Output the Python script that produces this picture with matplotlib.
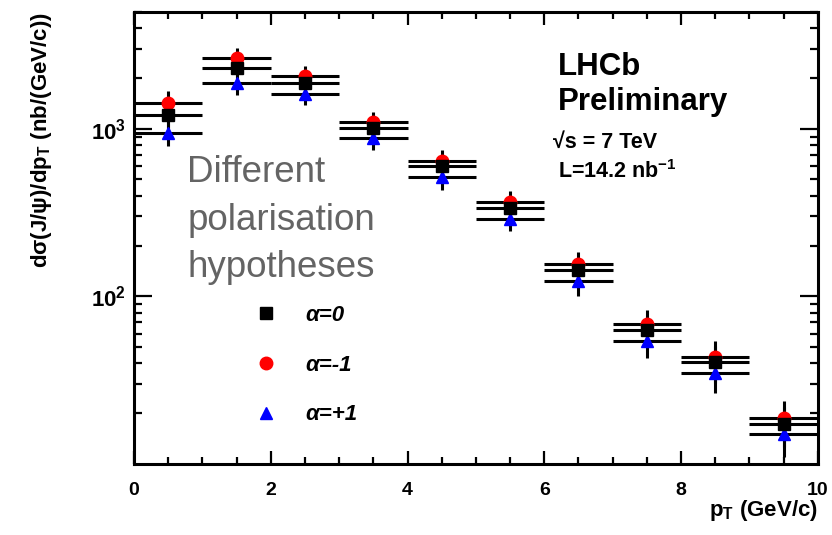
import numpy as np
import matplotlib
matplotlib.use("Agg")
from matplotlib import pyplot as plt
from matplotlib.lines import Line2D
from matplotlib.ticker import MultipleLocator, LogLocator, NullFormatter, FixedLocator, FixedFormatter

plt.rcParams['font.family'] = ['Liberation Sans', 'DejaVu Sans']
plt.rcParams['mathtext.fontset'] = 'custom'
plt.rcParams['mathtext.rm'] = 'Liberation Sans:bold'
plt.rcParams['mathtext.it'] = 'Liberation Sans:italic:bold'
plt.rcParams['mathtext.bf'] = 'Liberation Sans:bold'

# pT bins (GeV/c)
pt_centers = [0.5, 1.5, 2.5, 3.5, 4.5, 5.5, 6.5, 7.5, 8.5, 9.5]
pt_halfwidth = [0.5, 0.5, 0.5, 0.5, 0.5, 0.5, 0.5, 0.5, 0.5, 0.5]

# dsigma/dpT (nb/(GeV/c)) for each polarisation hypothesis
xsec_alpha0 = [1210, 2310, 1880, 1015, 598, 337, 143, 63.0, 40.3, 17.3]
xsec_alpha_m1 = [1430, 2650, 2070, 1100, 645, 366, 155, 68.1, 43.2, 18.7]
xsec_alpha_p1 = [946, 1880, 1615, 884, 513, 291, 123, 54.4, 35.1, 15.1]

# relative uncertainty per bin
rel_err = [0.17, 0.15, 0.14, 0.15, 0.16, 0.16, 0.18, 0.21, 0.25, 0.27]

series = [
    (xsec_alpha_m1, 'o', 'red', r'α=-1'),
    (xsec_alpha_p1, '^', 'blue', r'α=+1'),
    (xsec_alpha0, 's', 'black', r'α=0'),
]

fig = plt.figure(figsize=(8.32, 5.35), dpi=100)
ax = fig.add_axes([0.161, 0.133, 0.822, 0.845])

for vals, marker, col, lab in series:
    v = np.array(vals)
    ax.errorbar(pt_centers, v, xerr=pt_halfwidth, yerr=v * np.array(rel_err),
                fmt='none', ecolor='black', elinewidth=2.2, capsize=0, zorder=2)
for vals, marker, col, lab in series:
    ax.plot(pt_centers, vals, linestyle='none', marker=marker, color=col,
            markersize=9, zorder=3)

ax.set_yscale('log')
ax.set_xlim(0, 10)
ax.set_ylim(10, 5000)

ax.xaxis.set_major_locator(MultipleLocator(2))
ax.xaxis.set_minor_locator(MultipleLocator(0.5))
ax.yaxis.set_major_locator(FixedLocator([100, 1000]))
ax.yaxis.set_major_formatter(FixedFormatter([r'$10^{2}$', r'$10^{3}$']))
ax.yaxis.set_minor_locator(LogLocator(base=10, subs=np.arange(2, 10)))
ax.yaxis.set_minor_formatter(NullFormatter())

ax.tick_params(which='both', direction='in', top=True, right=True, width=1.6)
ax.tick_params(axis='x', which='major', length=9.5, pad=13, labelsize=14)
ax.tick_params(axis='x', which='minor', length=5)
ax.tick_params(axis='y', which='major', length=13, pad=6, labelsize=16)
ax.tick_params(axis='y', which='minor', length=6)
for lbl in ax.get_xticklabels():
    lbl.set_fontweight('bold')
for s in ax.spines.values():
    s.set_linewidth(2.2)

ax.set_xlabel(r'p$_{\mathrm{T}}$ (GeV/c)', loc='right', fontsize=16, fontweight='bold', labelpad=-1)
ax.set_ylabel(r'dσ(J/ψ)/dp$_{\mathrm{T}}$ (nb/(GeV/c))', loc='top', fontsize=16, fontweight='bold', labelpad=26)

ax.text(0.620, 0.861, 'LHCb', transform=ax.transAxes, fontsize=22.5, fontweight='bold', va='baseline')
ax.text(0.620, 0.783, 'Preliminary', transform=ax.transAxes, fontsize=22.5, fontweight='bold', va='baseline')
ax.text(0.612, 0.699, '√s = 7 TeV', transform=ax.transAxes, fontsize=15.5, fontweight='bold', va='baseline')
ax.text(0.620, 0.632, r'L=14.2 nb$^{-1}$', transform=ax.transAxes, fontsize=15.5, fontweight='bold', va='baseline')

ax.text(0.078, 0.414, 'Different\npolarisation\nhypotheses', transform=ax.transAxes,
        fontsize=26.5, color='#646464', va='baseline', linespacing=1.45)

handles = [Line2D([], [], linestyle='none', marker=m, color=c, markersize=9)
           for (v, m, c, l) in [series[2], series[0], series[1]]]
labels = [series[2][3], series[0][3], series[1][3]]
leg = ax.legend(handles, labels, frameon=False, loc='upper left', bbox_to_anchor=(0.177, 0.352),
                borderpad=0, borderaxespad=0, handlelength=1, handletextpad=1.26,
                labelspacing=1.3, prop={'size': 16, 'weight': 'bold', 'style': 'italic'})

fig.savefig('out.png', dpi=100)
